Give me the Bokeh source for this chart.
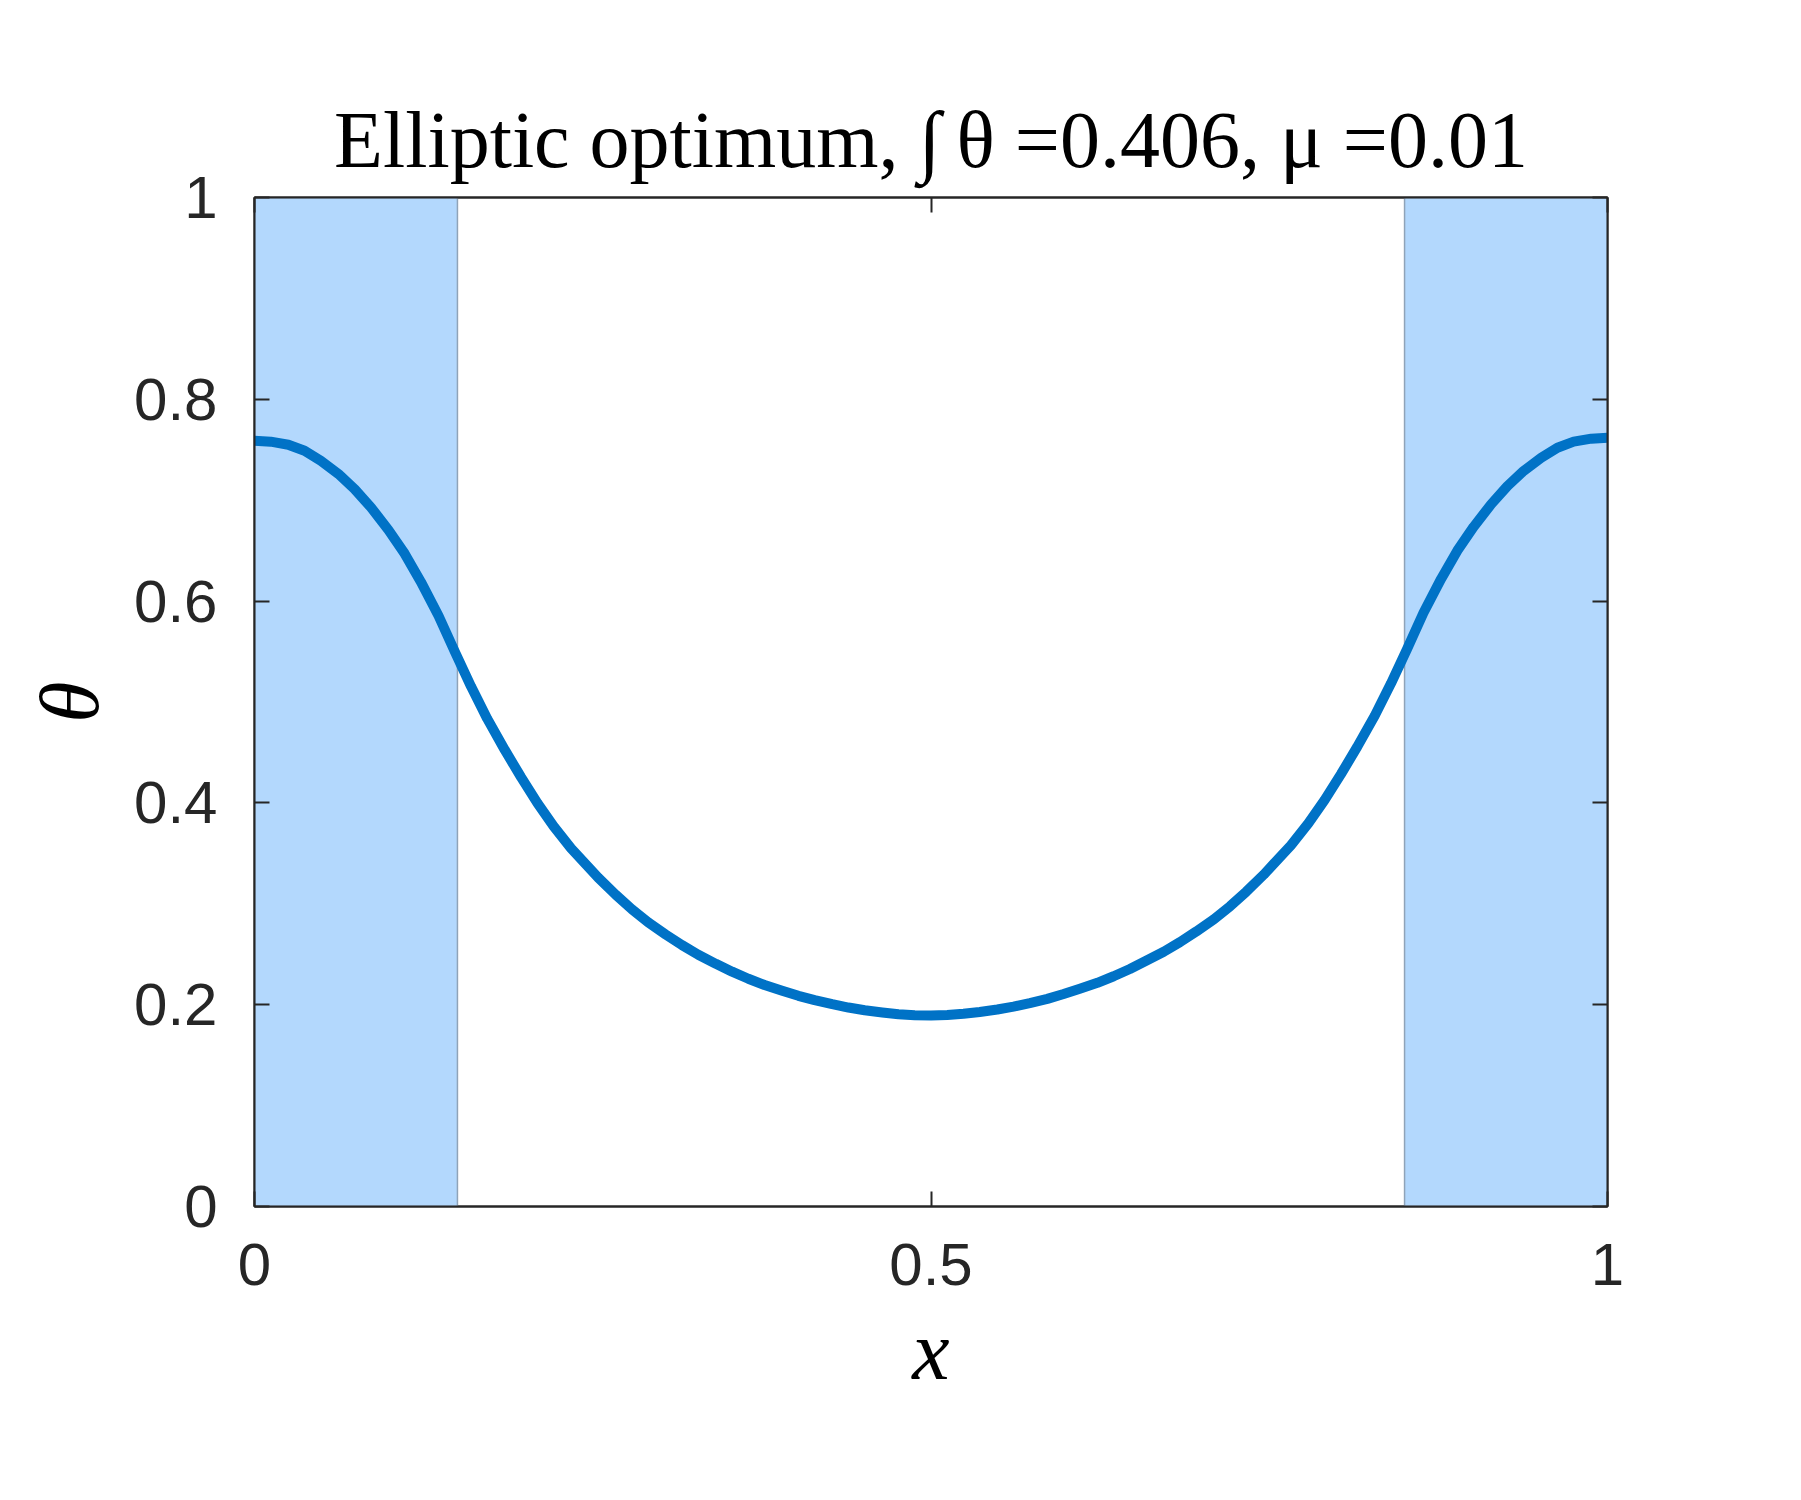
from bokeh.plotting import figure
from bokeh.models import Range1d, LinearAxis, FixedTicker, CustomJSTickFormatter
from bokeh.embed import file_html
from bokeh.resources import INLINE

# ---- data ----
x_vals = [0.000, 0.012, 0.025, 0.037, 0.049, 0.062, 0.074, 0.086, 0.099, 0.111,
          0.123, 0.136, 0.148, 0.160, 0.172, 0.185, 0.197, 0.209, 0.221, 0.234,
          0.254, 0.267, 0.279, 0.291, 0.304, 0.316, 0.328, 0.341, 0.353, 0.365,
          0.377, 0.390, 0.402, 0.414, 0.427, 0.439, 0.451, 0.464, 0.476, 0.488,
          0.500,
          0.512, 0.524, 0.536, 0.549, 0.561, 0.573, 0.586, 0.598, 0.610, 0.623,
          0.635, 0.647, 0.659, 0.672, 0.684, 0.696, 0.709, 0.721, 0.733, 0.746,
          0.766, 0.779, 0.791, 0.803, 0.815, 0.828, 0.840, 0.852, 0.864, 0.877,
          0.889, 0.901, 0.914, 0.926, 0.938, 0.951, 0.963, 0.975, 0.988, 1.000]
theta_vals = [0.7590, 0.7580, 0.7550, 0.7490, 0.7390, 0.7260, 0.7110, 0.6930, 0.6705, 0.6470,
              0.6190, 0.5855, 0.5500, 0.5155, 0.4835, 0.4525, 0.4255, 0.4000, 0.3770, 0.3550,
              0.3260, 0.3090, 0.2945, 0.2815, 0.2695, 0.2590, 0.2495, 0.2405, 0.2327, 0.2257,
              0.2195, 0.2138, 0.2088, 0.2045, 0.2005, 0.1972, 0.1945, 0.1923, 0.1906, 0.1896,
              0.1893,
              0.1898, 0.1910, 0.1928, 0.1952, 0.1981, 0.2016, 0.2058, 0.2106, 0.2158, 0.2217,
              0.2282, 0.2354, 0.2435, 0.2525, 0.2620, 0.2725, 0.2845, 0.2975, 0.3120, 0.3290,
              0.3580, 0.3800, 0.4030, 0.4285, 0.4555, 0.4865, 0.5185, 0.5530, 0.5885, 0.6220,
              0.6500, 0.6735, 0.6960, 0.7140, 0.7290, 0.7420, 0.7520, 0.7580, 0.7610, 0.7620]
band_start = [0.0, 0.85]
band_end = [0.15, 1.0]
x_ticks = [0, 0.5, 1]
y_ticks = [0, 0.2, 0.4, 0.6, 0.8, 1]
title_text = "Elliptic optimum, \u222b\u2009\u03b8 =0.406, \u03bc =0.01"

AX = "#262626"

p = figure(frame_width=1353, frame_height=1009,
           min_border_left=254, min_border_right=174,
           min_border_top=197, min_border_bottom=272,
           x_range=Range1d(0, 1), y_range=Range1d(0, 1),
           output_backend="svg", toolbar_location=None,
           title=title_text)
p.background_fill_color = "white"
p.border_fill_color = "white"
p.grid.visible = False
p.outline_line_color = AX
p.outline_line_width = 2

p.title.align = "center"
p.title.text_font = "Liberation Serif"
p.title.text_font_style = "normal"
p.title.text_font_size = "80px"
p.title.text_color = "black"
p.title.standoff = 28

# bands
p.quad(left=band_start, right=band_end, bottom=0, top=1,
       fill_color="#b3d8fd", fill_alpha=1.0,
       line_color="#8fa3b8", line_width=1.5)

# curve
p.line(x_vals, theta_vals, line_color="#0072C6", line_width=10,
       line_cap="round", line_join="round")

def style(ax):
    ax.axis_line_color = AX
    ax.axis_line_width = 2
    ax.major_tick_line_color = AX
    ax.major_tick_line_width = 2
    ax.major_tick_in = 15
    ax.major_tick_out = 0
    ax.minor_tick_line_color = None
    ax.major_label_text_font = "Liberation Sans"
    ax.major_label_text_font_size = "60px"
    ax.major_label_text_color = AX
    ax.major_label_standoff = 37

xa = p.xaxis[0]
xa.ticker = FixedTicker(ticks=x_ticks)
style(xa)
xa.major_label_overrides = {0: "0", 0.5: "0.5", 1: "1"}
xa.axis_label = "x"
xa.axis_label_text_font = "Liberation Serif"
xa.axis_label_text_font_style = "italic"
xa.axis_label_text_font_size = "84px"
xa.axis_label_text_color = "black"
xa.axis_label_standoff = 16

ya = p.yaxis[0]
ya.ticker = FixedTicker(ticks=y_ticks)
style(ya)
ya.major_label_overrides = {0: "0", 1: "1"}
ya.axis_label = "\u03b8"
ya.axis_label_text_font = "Liberation Serif"
ya.axis_label_text_font_style = "italic"
ya.axis_label_text_font_size = "84px"
ya.axis_label_text_color = "black"
ya.axis_label_standoff = 15

empty = CustomJSTickFormatter(code="return '';")
ra = LinearAxis(ticker=FixedTicker(ticks=y_ticks), formatter=empty)
style(ra)
ra.major_label_standoff = 0
p.add_layout(ra, "right")
ta = LinearAxis(ticker=FixedTicker(ticks=x_ticks), formatter=empty)
style(ta)
ta.major_label_standoff = 0
p.add_layout(ta, "above")

open("out.html", "w").write(file_html(p, INLINE))
